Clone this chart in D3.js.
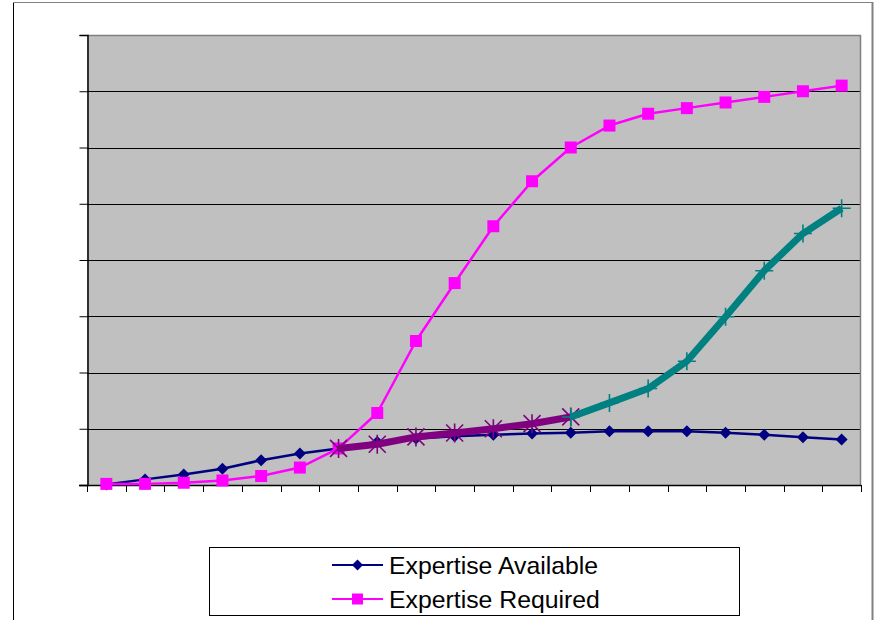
<!DOCTYPE html>
<html>
<head>
<meta charset="utf-8">
<script src="https://cdn.jsdelivr.net/npm/d3@7/dist/d3.min.js"></script>
<style>
  html, body { margin: 0; padding: 0; background: #fff; }
  svg { display: block; }
  text { font-family: "Liberation Sans", Arial, sans-serif; }
</style>
</head>
<body>
<svg id="chart" width="874" height="620"></svg>
<script>
// ---- Data ----
const categories = ["1","2","3","4","5","6","7","8","9","10","11","12","13","14","15","16","17","18","19","20"];
const expertiseAvailable = [0.1, 1.0, 1.85, 2.9, 4.4, 5.6, 6.5, 7.65, 8.25, 8.65, 8.95, 9.15, 9.3, 9.55, 9.55, 9.55, 9.3, 8.95, 8.5, 8.1];
const expertiseRequired  = [0.2, 0.2, 0.4, 0.8, 1.6, 3.1, 6.5, 12.8, 25.6, 35.9, 46.0, 54.0, 60.0, 63.9, 66.0, 67.0, 68.0, 69.0, 70.0, 71.0];
// unlabelled highlight series (null = no point)
const gapSegment    = [null, null, null, null, null, null, 6.5, 7.25, 8.55, 9.25, 10.0, 10.9, 12.1, null, null, null, null, null, null, null];
const growthSegment = [null, null, null, null, null, null, null, null, null, null, null, null, 12.1, 14.6, 17.15, 22.0, 29.9, 38.1, 44.7, 49.2];
const yTicks = [0, 10, 20, 30, 40, 50, 60, 70, 80];
const legendLabels = ["Expertise Available", "Expertise Required"];

// ---- Layout ----
const svg = d3.select("#chart");
const plot = { left: 87, right: 861, top: 35, bottom: 485 };

const x = d3.scaleBand().domain(categories).range([plot.left, plot.right]).paddingInner(0).paddingOuter(0);
const y = d3.scaleLinear().domain([0, 80]).range([plot.bottom, plot.top]);
const cx = c => x(c) + x.bandwidth() / 2;

// outer frame
svg.append("line").attr("x1", 13.5).attr("x2", 13.5).attr("y1", 2.5).attr("y2", 620).attr("stroke", "#000").attr("stroke-width", 1);
svg.append("line").attr("x1", 13).attr("x2", 873).attr("y1", 2.5).attr("y2", 2.5).attr("stroke", "#808080").attr("stroke-width", 1);
svg.append("line").attr("x1", 872.5).attr("x2", 872.5).attr("y1", 2).attr("y2", 620).attr("stroke", "#808080").attr("stroke-width", 2);

// plot background
svg.append("rect").attr("x", plot.left).attr("y", plot.top)
  .attr("width", plot.right - plot.left).attr("height", plot.bottom - plot.top)
  .attr("fill", "#C0C0C0");

// gridlines
svg.append("g").selectAll("line").data(yTicks.filter(t => t > 0 && t < 80)).join("line")
  .attr("x1", plot.left).attr("x2", plot.right)
  .attr("y1", d => Math.round(y(d)) + 0.5).attr("y2", d => Math.round(y(d)) + 0.5)
  .attr("stroke", "#000").attr("stroke-width", 1).attr("shape-rendering", "crispEdges");

// plot border top & right (gray)
svg.append("path")
  .attr("d", `M${plot.left},${plot.top + 0.5}H${plot.right - 0.5}V${plot.bottom}`)
  .attr("fill", "none").attr("stroke", "#808080").attr("stroke-width", 1.5);

// y axis
const yAxis = d3.axisLeft(y).tickValues(yTicks).tickSize(8).tickFormat("");
const gy = svg.append("g").attr("transform", `translate(${plot.left + 0.5},0)`).call(yAxis);
gy.select(".domain").attr("stroke", "#000").attr("stroke-width", 1.5);
gy.selectAll(".tick line").attr("stroke", "#000");

// x axis (ticks on category boundaries)
const boundaries = categories.map(c => x(c)).concat([plot.right]);
const gx = svg.append("g");
gx.append("line").attr("x1", plot.left - 8).attr("x2", plot.right).attr("y1", plot.bottom + 0.5).attr("y2", plot.bottom + 0.5)
  .attr("stroke", "#000").attr("stroke-width", 1.5);
gx.selectAll("line.tk").data(boundaries).join("line").attr("class", "tk")
  .attr("x1", d => Math.round(d) + 0.5).attr("x2", d => Math.round(d) + 0.5)
  .attr("y1", plot.bottom).attr("y2", plot.bottom + 7)
  .attr("stroke", "#000").attr("stroke-width", 1);

// ---- Series ----
const line = d3.line().defined(d => d.v !== null).x(d => cx(d.c)).y(d => y(d.v));
const toPts = arr => categories.map((c, i) => ({ c, v: arr[i] }));

function drawSeries(arr, color, width) {
  svg.append("path").datum(toPts(arr)).attr("d", line)
    .attr("fill", "none").attr("stroke", color).attr("stroke-width", width)
    .attr("stroke-linejoin", "round").attr("stroke-linecap", "butt");
}

const diamond = (s) => `M0,${-s}L${s},0L0,${s}L${-s},0Z`;
const square = (s) => `M${-s},${-s}H${s}V${s}H${-s}Z`;
const asterisk = (s) => `M${-s},${-s}L${s},${s}M${-s},${s}L${s},${-s}M0,${-s - 1}V${s + 1}`;
const plus = (s) => `M${-s},0H${s}M0,${-s}V${s}`;

function drawMarkers(arr, pathStr, fill, stroke, sw) {
  svg.append("g").selectAll("path").data(toPts(arr).filter(d => d.v !== null)).join("path")
    .attr("transform", d => `translate(${cx(d.c)},${y(d.v)})`)
    .attr("d", pathStr)
    .attr("fill", fill).attr("stroke", stroke).attr("stroke-width", sw);
}

// Expertise Available
drawSeries(expertiseAvailable, "#000080", 2.5);
drawMarkers(expertiseAvailable, diamond(6), "#000080", "none", 0);

// Expertise Required
drawSeries(expertiseRequired, "#FF00FF", 2.5);
drawMarkers(expertiseRequired, square(6), "#FF00FF", "none", 0);

// purple segment
drawSeries(gapSegment, "#800080", 7);
drawMarkers(gapSegment, asterisk(8.5), "none", "#800080", 1.6);

// teal segment
drawSeries(growthSegment, "#008080", 7);
drawMarkers(growthSegment, plus(9), "none", "#008080", 1.6);

// ---- Legend ----
const legend = svg.append("g");
legend.append("rect").attr("x", 209.5).attr("y", 547.5).attr("width", 530).attr("height", 68)
  .attr("fill", "#fff").attr("stroke", "#000").attr("stroke-width", 1);

const legendItems = [
  { label: legendLabels[0], color: "#000080", marker: diamond(5.5), y: 565 },
  { label: legendLabels[1], color: "#FF00FF", marker: square(5.5), y: 599 }
];
legendItems.forEach(it => {
  legend.append("line").attr("x1", 332).attr("x2", 383).attr("y1", it.y).attr("y2", it.y)
    .attr("stroke", it.color).attr("stroke-width", 2);
  legend.append("path").attr("transform", `translate(357.5,${it.y})`).attr("d", it.marker).attr("fill", it.color);
  legend.append("text").attr("x", 389).attr("y", it.y).attr("dy", "0.36em")
    .attr("font-size", 24.8).attr("fill", "#000").text(it.label);
});
</script>
</body>
</html>
